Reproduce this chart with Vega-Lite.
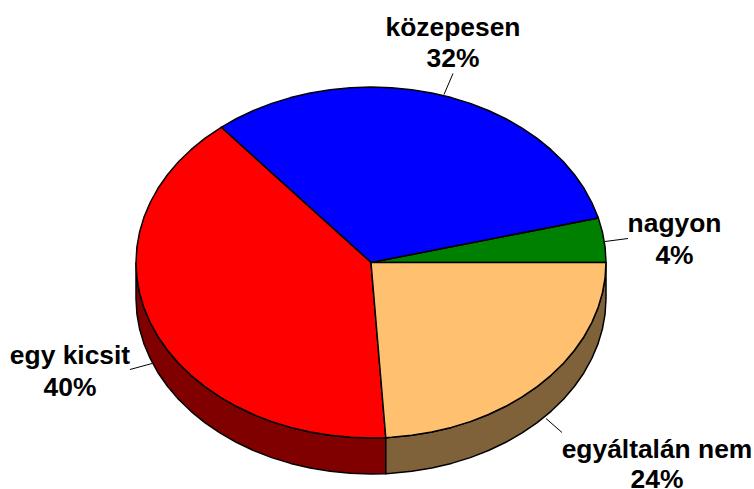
{"$schema":"https://vega.github.io/schema/vega-lite/v6.json","width":754,"height":489,"padding":0,"autosize":{"type":"none"},"background":"white","view":{"stroke":null},
"datasets":{
"outline":[
{"s":"egy kicsit oldal","i":0,"x":136,"y":262},{"s":"egy kicsit oldal","i":1,"x":136.9,"y":277.3},{"s":"egy kicsit oldal","i":2,"x":139.6,"y":292.5},{"s":"egy kicsit oldal","i":3,"x":144,"y":307.4},{"s":"egy kicsit oldal","i":4,"x":150.2,"y":322},{"s":"egy kicsit oldal","i":5,"x":158,"y":336.2},{"s":"egy kicsit oldal","i":6,"x":167.5,"y":349.8},{"s":"egy kicsit oldal","i":7,"x":178.5,"y":362.7},{"s":"egy kicsit oldal","i":8,"x":191,"y":374.8},{"s":"egy kicsit oldal","i":9,"x":204.8,"y":386.1},{"s":"egy kicsit oldal","i":10,"x":219.9,"y":396.4},{"s":"egy kicsit oldal","i":11,"x":236.2,"y":405.8},{"s":"egy kicsit oldal","i":12,"x":253.5,"y":414},{"s":"egy kicsit oldal","i":13,"x":271.7,"y":421.1},{"s":"egy kicsit oldal","i":14,"x":290.6,"y":426.9},{"s":"egy kicsit oldal","i":15,"x":310.2,"y":431.5},{"s":"egy kicsit oldal","i":16,"x":330.2,"y":434.8},{"s":"egy kicsit oldal","i":17,"x":350.5,"y":436.8},{"s":"egy kicsit oldal","i":18,"x":371,"y":437.5},{"s":"egy kicsit oldal","i":19,"x":385.8,"y":437.2},
{"s":"egy kicsit oldal","i":20,"x":385.8,"y":473.2},{"s":"egy kicsit oldal","i":21,"x":371,"y":473.5},{"s":"egy kicsit oldal","i":22,"x":350.5,"y":472.8},{"s":"egy kicsit oldal","i":23,"x":330.2,"y":470.8},{"s":"egy kicsit oldal","i":24,"x":310.2,"y":467.5},{"s":"egy kicsit oldal","i":25,"x":290.6,"y":462.9},{"s":"egy kicsit oldal","i":26,"x":271.7,"y":457.1},{"s":"egy kicsit oldal","i":27,"x":253.5,"y":450},{"s":"egy kicsit oldal","i":28,"x":236.2,"y":441.8},{"s":"egy kicsit oldal","i":29,"x":219.9,"y":432.4},{"s":"egy kicsit oldal","i":30,"x":204.8,"y":422.1},{"s":"egy kicsit oldal","i":31,"x":191,"y":410.8},{"s":"egy kicsit oldal","i":32,"x":178.5,"y":398.7},{"s":"egy kicsit oldal","i":33,"x":167.5,"y":385.8},{"s":"egy kicsit oldal","i":34,"x":158,"y":372.2},{"s":"egy kicsit oldal","i":35,"x":150.2,"y":358},{"s":"egy kicsit oldal","i":36,"x":144,"y":343.4},{"s":"egy kicsit oldal","i":37,"x":139.6,"y":328.5},{"s":"egy kicsit oldal","i":38,"x":136.9,"y":313.3},{"s":"egy kicsit oldal","i":39,"x":136,"y":298},{"s":"egy kicsit oldal","i":40,"x":136,"y":262},
{"s":"egyáltalán nem oldal","i":0,"x":385.8,"y":437.2},{"s":"egyáltalán nem oldal","i":1,"x":391.5,"y":436.8},{"s":"egyáltalán nem oldal","i":2,"x":411.8,"y":434.8},{"s":"egyáltalán nem oldal","i":3,"x":431.8,"y":431.5},{"s":"egyáltalán nem oldal","i":4,"x":451.4,"y":426.9},{"s":"egyáltalán nem oldal","i":5,"x":470.3,"y":421.1},{"s":"egyáltalán nem oldal","i":6,"x":488.5,"y":414},{"s":"egyáltalán nem oldal","i":7,"x":505.8,"y":405.8},{"s":"egyáltalán nem oldal","i":8,"x":522.1,"y":396.4},{"s":"egyáltalán nem oldal","i":9,"x":537.2,"y":386.1},{"s":"egyáltalán nem oldal","i":10,"x":551,"y":374.8},{"s":"egyáltalán nem oldal","i":11,"x":563.5,"y":362.7},{"s":"egyáltalán nem oldal","i":12,"x":574.5,"y":349.8},{"s":"egyáltalán nem oldal","i":13,"x":584,"y":336.2},{"s":"egyáltalán nem oldal","i":14,"x":591.8,"y":322},{"s":"egyáltalán nem oldal","i":15,"x":598,"y":307.4},{"s":"egyáltalán nem oldal","i":16,"x":602.4,"y":292.5},{"s":"egyáltalán nem oldal","i":17,"x":605.1,"y":277.3},{"s":"egyáltalán nem oldal","i":18,"x":606,"y":262},
{"s":"egyáltalán nem oldal","i":19,"x":606,"y":298},{"s":"egyáltalán nem oldal","i":20,"x":605.1,"y":313.3},{"s":"egyáltalán nem oldal","i":21,"x":602.4,"y":328.5},{"s":"egyáltalán nem oldal","i":22,"x":598,"y":343.4},{"s":"egyáltalán nem oldal","i":23,"x":591.8,"y":358},{"s":"egyáltalán nem oldal","i":24,"x":584,"y":372.2},{"s":"egyáltalán nem oldal","i":25,"x":574.5,"y":385.8},{"s":"egyáltalán nem oldal","i":26,"x":563.5,"y":398.7},{"s":"egyáltalán nem oldal","i":27,"x":551,"y":410.8},{"s":"egyáltalán nem oldal","i":28,"x":537.2,"y":422.1},{"s":"egyáltalán nem oldal","i":29,"x":522.1,"y":432.4},{"s":"egyáltalán nem oldal","i":30,"x":505.8,"y":441.8},{"s":"egyáltalán nem oldal","i":31,"x":488.5,"y":450},{"s":"egyáltalán nem oldal","i":32,"x":470.3,"y":457.1},{"s":"egyáltalán nem oldal","i":33,"x":451.4,"y":462.9},{"s":"egyáltalán nem oldal","i":34,"x":431.8,"y":467.5},{"s":"egyáltalán nem oldal","i":35,"x":411.8,"y":470.8},{"s":"egyáltalán nem oldal","i":36,"x":391.5,"y":472.8},{"s":"egyáltalán nem oldal","i":37,"x":385.8,"y":473.2},{"s":"egyáltalán nem oldal","i":38,"x":385.8,"y":437.2},
{"s":"nagyon","i":0,"x":371,"y":262},{"s":"nagyon","i":1,"x":606,"y":262},{"s":"nagyon","i":2,"x":605.1,"y":246.7},{"s":"nagyon","i":3,"x":602.4,"y":231.5},{"s":"nagyon","i":4,"x":598.3,"y":217.4},{"s":"nagyon","i":5,"x":371,"y":262},
{"s":"közepesen","i":0,"x":371,"y":262},{"s":"közepesen","i":1,"x":598.3,"y":217.4},{"s":"közepesen","i":2,"x":591.8,"y":202},{"s":"közepesen","i":3,"x":584,"y":187.8},{"s":"közepesen","i":4,"x":574.5,"y":174.3},{"s":"közepesen","i":5,"x":563.5,"y":161.3},{"s":"közepesen","i":6,"x":551,"y":149.2},{"s":"közepesen","i":7,"x":537.2,"y":137.9},{"s":"közepesen","i":8,"x":522.1,"y":127.6},{"s":"közepesen","i":9,"x":505.8,"y":118.2},{"s":"közepesen","i":10,"x":488.5,"y":110},{"s":"közepesen","i":11,"x":470.3,"y":102.9},{"s":"közepesen","i":12,"x":451.4,"y":97.1},{"s":"közepesen","i":13,"x":431.8,"y":92.5},{"s":"közepesen","i":14,"x":411.8,"y":89.2},{"s":"közepesen","i":15,"x":391.5,"y":87.2},{"s":"közepesen","i":16,"x":371,"y":86.5},{"s":"közepesen","i":17,"x":350.5,"y":87.2},{"s":"közepesen","i":18,"x":330.2,"y":89.2},{"s":"közepesen","i":19,"x":310.2,"y":92.5},{"s":"közepesen","i":20,"x":290.6,"y":97.1},{"s":"közepesen","i":21,"x":271.7,"y":102.9},{"s":"közepesen","i":22,"x":253.5,"y":110},{"s":"közepesen","i":23,"x":236.2,"y":118.2},{"s":"közepesen","i":24,"x":221.2,"y":126.8},{"s":"közepesen","i":25,"x":371,"y":262},
{"s":"egy kicsit","i":0,"x":371,"y":262},{"s":"egy kicsit","i":1,"x":221.2,"y":126.8},{"s":"egy kicsit","i":2,"x":204.8,"y":137.9},{"s":"egy kicsit","i":3,"x":191,"y":149.2},{"s":"egy kicsit","i":4,"x":178.5,"y":161.3},{"s":"egy kicsit","i":5,"x":167.5,"y":174.3},{"s":"egy kicsit","i":6,"x":158,"y":187.8},{"s":"egy kicsit","i":7,"x":150.2,"y":202},{"s":"egy kicsit","i":8,"x":144,"y":216.6},{"s":"egy kicsit","i":9,"x":139.6,"y":231.5},{"s":"egy kicsit","i":10,"x":136.9,"y":246.7},{"s":"egy kicsit","i":11,"x":136,"y":262},{"s":"egy kicsit","i":12,"x":136.9,"y":277.3},{"s":"egy kicsit","i":13,"x":139.6,"y":292.5},{"s":"egy kicsit","i":14,"x":144,"y":307.4},{"s":"egy kicsit","i":15,"x":150.2,"y":322},{"s":"egy kicsit","i":16,"x":158,"y":336.2},{"s":"egy kicsit","i":17,"x":167.5,"y":349.8},{"s":"egy kicsit","i":18,"x":178.5,"y":362.7},{"s":"egy kicsit","i":19,"x":191,"y":374.8},{"s":"egy kicsit","i":20,"x":204.8,"y":386.1},{"s":"egy kicsit","i":21,"x":219.9,"y":396.4},{"s":"egy kicsit","i":22,"x":236.2,"y":405.8},{"s":"egy kicsit","i":23,"x":253.5,"y":414},{"s":"egy kicsit","i":24,"x":271.7,"y":421.1},{"s":"egy kicsit","i":25,"x":290.6,"y":426.9},{"s":"egy kicsit","i":26,"x":310.2,"y":431.5},{"s":"egy kicsit","i":27,"x":330.2,"y":434.8},{"s":"egy kicsit","i":28,"x":350.5,"y":436.8},{"s":"egy kicsit","i":29,"x":371,"y":437.5},{"s":"egy kicsit","i":30,"x":385.8,"y":437.2},{"s":"egy kicsit","i":31,"x":371,"y":262},
{"s":"egyáltalán nem","i":0,"x":371,"y":262},{"s":"egyáltalán nem","i":1,"x":385.8,"y":437.2},{"s":"egyáltalán nem","i":2,"x":391.5,"y":436.8},{"s":"egyáltalán nem","i":3,"x":411.8,"y":434.8},{"s":"egyáltalán nem","i":4,"x":431.8,"y":431.5},{"s":"egyáltalán nem","i":5,"x":451.4,"y":426.9},{"s":"egyáltalán nem","i":6,"x":470.3,"y":421.1},{"s":"egyáltalán nem","i":7,"x":488.5,"y":414},{"s":"egyáltalán nem","i":8,"x":505.8,"y":405.8},{"s":"egyáltalán nem","i":9,"x":522.1,"y":396.4},{"s":"egyáltalán nem","i":10,"x":537.2,"y":386.1},{"s":"egyáltalán nem","i":11,"x":551,"y":374.8},{"s":"egyáltalán nem","i":12,"x":563.5,"y":362.7},{"s":"egyáltalán nem","i":13,"x":574.5,"y":349.8},{"s":"egyáltalán nem","i":14,"x":584,"y":336.2},{"s":"egyáltalán nem","i":15,"x":591.8,"y":322},{"s":"egyáltalán nem","i":16,"x":598,"y":307.4},{"s":"egyáltalán nem","i":17,"x":602.4,"y":292.5},{"s":"egyáltalán nem","i":18,"x":605.1,"y":277.3},{"s":"egyáltalán nem","i":19,"x":606,"y":262},{"s":"egyáltalán nem","i":20,"x":371,"y":262}
],
"labels":[
{"category":"közepesen","share":"32%","lx":453,"ly1":35.5,"ly2":66.5,"x1":453,"y1":73,"x2":444,"y2":94},
{"category":"nagyon","share":"4%","lx":674.5,"ly1":231.5,"ly2":263.5,"x1":628,"y1":238,"x2":605,"y2":241},
{"category":"egy kicsit","share":"40%","lx":70,"ly1":363.5,"ly2":395.5,"x1":130,"y1":369,"x2":152,"y2":363},
{"category":"egyáltalán nem","share":"24%","lx":657,"ly1":457.5,"ly2":487.5,"x1":562,"y1":432,"x2":546,"y2":418}
]},
"layer":[
{"data":{"name":"outline"},"mark":{"type":"line","filled":true,"stroke":"black","strokeWidth":1.5,"strokeJoin":"round","fillOpacity":1,"interpolate":"linear","clip":false},
"encoding":{"x":{"field":"x","type":"quantitative","scale":{"domain":[0,754]},"axis":null},"y":{"field":"y","type":"quantitative","scale":{"domain":[488.5,-0.5]},"axis":null},"order":{"field":"i","type":"quantitative"},
"color":{"field":"s","type":"nominal","legend":null,"sort":null,"scale":{"domain":["egy kicsit oldal","egyáltalán nem oldal","nagyon","közepesen","egy kicsit","egyáltalán nem"],"range":["#800000","#80623A","#008000","#0000FF","#FF0000","#FFC06F"]}}}},
{"data":{"name":"labels"},"mark":{"type":"rule","color":"black","strokeWidth":1},
"encoding":{"x":{"field":"x1","type":"quantitative","scale":{"domain":[0,754]},"axis":null},"y":{"field":"y1","type":"quantitative","scale":{"domain":[488.5,-0.5]},"axis":null},"x2":{"field":"x2"},"y2":{"field":"y2"}}},
{"data":{"name":"labels"},"mark":{"type":"text","font":"Liberation Sans","fontWeight":"bold","fontSize":26.4,"align":"center","baseline":"alphabetic","color":"black"},
"encoding":{"x":{"field":"lx","type":"quantitative","scale":{"domain":[0,754]},"axis":null},"y":{"field":"ly1","type":"quantitative","scale":{"domain":[488.5,-0.5]},"axis":null},"text":{"field":"category"}}},
{"data":{"name":"labels"},"mark":{"type":"text","font":"Liberation Sans","fontWeight":"bold","fontSize":26.4,"align":"center","baseline":"alphabetic","color":"black"},
"encoding":{"x":{"field":"lx","type":"quantitative","scale":{"domain":[0,754]},"axis":null},"y":{"field":"ly2","type":"quantitative","scale":{"domain":[488.5,-0.5]},"axis":null},"text":{"field":"share"}}}
]}
